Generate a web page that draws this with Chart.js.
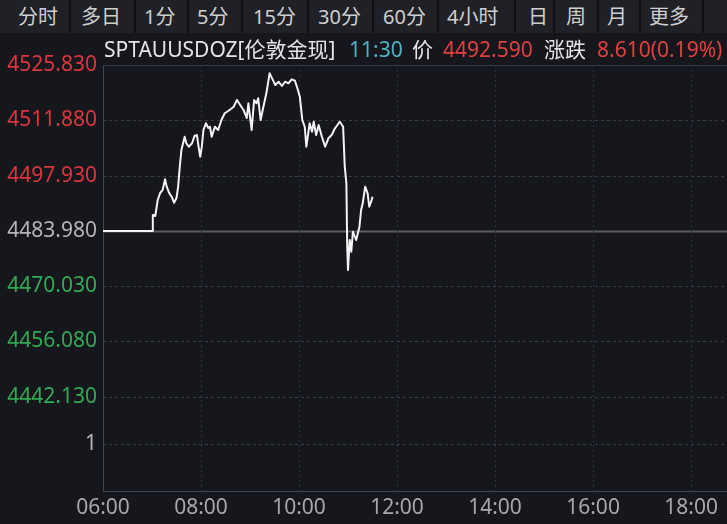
<!DOCTYPE html>
<html>
<head>
<meta charset="utf-8">
<script src="https://cdn.jsdelivr.net/npm/chart.js@4/dist/chart.umd.min.js"></script>
<style>
    html, body { margin: 0; padding: 0; background: #15171d; }
    #wrap { position: relative; width: 727px; height: 524px; overflow: hidden;
            font-family: "Noto Sans", "Noto Sans CJK SC", sans-serif; }
    #chart { position: absolute; left: 0; top: 0; }
    #tabs { position: absolute; left: 0; top: 0; width: 727px; height: 33px; background: #1f2127; }
    #tabs span { position: absolute; top: 3px; font-size: 20px; line-height: 28px; color: #cfcfcf; white-space: nowrap; }
    #tabs i { position: absolute; top: 0; width: 2px; height: 33px; background: #101115; }
    #head span { position: absolute; top: 36px; font-size: 21px; line-height: 26px; white-space: nowrap; }
</style>
</head>
<body>
<div id="wrap">
    <canvas id="chart" width="727" height="524"></canvas>
    <div id="tabs"></div>
    <div id="head"></div>
</div>
<script>
    // Tab bar labels and header texts
    const tabLabels = ['分时', '多日', '1分', '5分', '15分', '30分', '60分', '4小时', '日', '周', '月', '更多'];
    const headTexts = ['SPTAUUSDOZ[伦敦金现]', '11:30', '价', '4492.590', '涨跌', '8.610(0.19%)'];

    // Price series (time, price)
    const times = [
        '06:00', '07:00', '07:01', '07:04', '07:07', '07:10', '07:13', '07:16', '07:18', '07:21',
        '07:24', '07:27', '07:30', '07:32', '07:34', '07:36', '07:40', '07:42', '07:45', '07:49',
        '07:52', '07:55', '07:57', '07:59', '08:01', '08:03', '08:06', '08:09', '08:11', '08:13',
        '08:17', '08:21', '08:25', '08:29', '08:35', '08:40', '08:44', '08:48', '08:52', '08:56',
        '08:58', '09:02', '09:05', '09:08', '09:10', '09:13', '09:16', '09:20', '09:24', '09:27',
        '09:31', '09:35', '09:39', '09:43', '09:47', '09:51', '09:55', '09:58', '10:01', '10:04',
        '10:07', '10:09', '10:13', '10:16', '10:18', '10:21', '10:24', '10:28', '10:32', '10:36',
        '10:40', '10:44', '10:47', '10:50', '10:54', '10:56', '10:58', '10:59', '11:00', '11:02',
        '11:04', '11:06', '11:10', '11:14', '11:16', '11:18', '11:21', '11:24', '11:26', '11:29',
        '11:30'
    ];
    const prices = [
        4483.98, 4483.98, 4487.99, 4487.74, 4491.77, 4493.54, 4494.30, 4497.00, 4495.13, 4493.54,
        4492.61, 4491.09, 4492.28, 4495.13, 4500.17, 4504.39, 4507.74, 4506.08, 4505.22, 4506.08,
        4507.92, 4508.17, 4505.22, 4502.70, 4505.22, 4509.43, 4511.12, 4509.94, 4510.26, 4507.74,
        4510.26, 4509.43, 4511.96, 4513.65, 4514.48, 4515.31, 4517.00, 4515.74, 4514.48, 4512.46,
        4516.17, 4509.43, 4517.00, 4516.17, 4517.43, 4511.96, 4514.91, 4518.69, 4523.74, 4522.47,
        4520.78, 4521.62, 4520.53, 4521.62, 4521.21, 4522.22, 4521.87, 4519.95, 4517.83, 4511.96,
        4510.26, 4505.22, 4511.12, 4509.00, 4511.53, 4508.17, 4510.69, 4507.74, 4505.22, 4507.34,
        4508.17, 4509.86, 4510.69, 4511.53, 4510.26, 4500.17, 4495.99, 4479.99, 4474.11, 4481.68,
        4478.73, 4483.78, 4481.68, 4485.04, 4489.25, 4490.94, 4495.13, 4493.46, 4490.08, 4491.77,
        4492.59
    ];

    // Axis ticks
    const basePrice = 4483.98;
    const yTickValues = [4525.83, 4511.88, 4497.93, 4483.98, 4470.03, 4456.08, 4442.13, 4430.22];
    const yTickLabels = ['4525.830', '4511.880', '4497.930', '4483.980', '4470.030', '4456.080', '4442.130', '1'];
    const yRange = [4418.36, 4525.83];
    const xTickLabels = ['06:00', '08:00', '10:00', '12:00', '14:00', '16:00', '18:00'];
    const xRange = ['06:00', '18:44'];

    function toMin(t) {
        const p = t.split(':');
        return (+p[0]) * 60 + (+p[1]);
    }
    function fmt(m) {
        const h = Math.floor(m / 60), mm = m % 60;
        return String(h).padStart(2, '0') + ':' + String(mm).padStart(2, '0');
    }

    // Build tab bar + header
    const tabX = [18, 81, 144, 197, 253, 318, 383, 447, 528, 566, 607, 649];
    const sepX = [69, 134, 187, 241, 307, 372, 437, 514, 553, 597, 639, 702];
    const tabs = document.getElementById('tabs');
    tabLabels.forEach((t, i) => {
        const s = document.createElement('span');
        s.textContent = t;
        s.style.left = tabX[i] + 'px';
        tabs.appendChild(s);
    });
    sepX.forEach(x => {
        const d = document.createElement('i');
        d.style.left = x + 'px';
        tabs.appendChild(d);
    });
    const headX = [104, 349, 412, 443, 544, 597];
    const headColors = ['#e4e4e4', '#4fb0c6', '#e4e4e4', '#e2403f', '#e4e4e4', '#e2403f'];
    const head = document.getElementById('head');
    headTexts.forEach((t, i) => {
        const s = document.createElement('span');
        s.textContent = t;
        s.style.left = headX[i] + 'px';
        s.style.color = headColors[i];
        head.appendChild(s);
    });

    // Grid lines + frame
    const gridPlugin = {
        id: 'gridLines',
        beforeDatasetsDraw(chart) {
            const c = chart.ctx, a = chart.chartArea;
            const ys = chart.scales.y, xs = chart.scales.x;
            c.save();
            c.lineWidth = 1;
            ys.ticks.forEach((t, i) => {
                const y = Math.round(ys.getPixelForValue(t.value)) + 0.5;
                if (t.value === basePrice) {
                    c.setLineDash([]);
                    c.strokeStyle = '#5b5d63';
                    c.lineWidth = 2;
                } else if (i === 0) {
                    c.setLineDash([]);
                    c.strokeStyle = '#373a42';
                    c.lineWidth = 1;
                } else {
                    c.setLineDash([3, 3]);
                    c.strokeStyle = '#3a3d45';
                    c.lineWidth = 1;
                }
                c.beginPath();
                c.moveTo(a.left, y);
                c.lineTo(a.right, y);
                c.stroke();
            });
            c.setLineDash([2, 3]);
            c.strokeStyle = '#30333b';
            c.lineWidth = 1;
            xs.ticks.forEach((t, i) => {
                if (i === 0) return;
                const x = Math.round(xs.getPixelForValue(t.value)) + 0.5;
                c.beginPath();
                c.moveTo(x, a.top);
                c.lineTo(x, a.bottom);
                c.stroke();
            });
            c.setLineDash([]);
            c.strokeStyle = '#44474f';
            c.beginPath();
            c.moveTo(a.left + 0.5, a.top);
            c.lineTo(a.left + 0.5, a.bottom + 0.5);
            c.lineTo(a.right, a.bottom + 0.5);
            c.stroke();
            c.restore();
        }
    };

    const ctx = document.getElementById('chart').getContext('2d');
    new Chart(ctx, {
        type: 'line',
        data: {
            datasets: [{
                data: times.map((t, i) => ({ x: toMin(t), y: prices[i] })),
                borderColor: '#f4f4f4',
                borderWidth: 2,
                borderJoinStyle: 'round',
                tension: 0,
                pointRadius: 0,
                fill: false
            }]
        },
        options: {
            responsive: false,
            animation: false,
            layout: { padding: { top: 65, left: 0, right: 0, bottom: 0 } },
            plugins: {
                legend: { display: false },
                tooltip: { enabled: false }
            },
            scales: {
                x: {
                    type: 'linear',
                    min: toMin(xRange[0]),
                    max: toMin(xRange[1]),
                    grid: { display: false, drawTicks: false },
                    border: { display: false },
                    afterBuildTicks: function (scale) {
                        scale.ticks = xTickLabels.map(t => ({ value: toMin(t) }));
                    },
                    afterFit: function (scale) { scale.height = 33; },
                    ticks: {
                        autoSkip: false,
                        maxRotation: 0,
                        padding: 4,
                        color: '#a8a8a8',
                        font: { family: '"Noto Sans", sans-serif', size: 21 },
                        callback: function (v) { return fmt(v); }
                    }
                },
                y: {
                    min: yRange[0],
                    max: yRange[1],
                    grid: { display: false, drawTicks: false },
                    border: { display: false },
                    afterBuildTicks: function (scale) {
                        scale.ticks = yTickValues.map(v => ({ value: v }));
                    },
                    afterFit: function (scale) { scale.width = 103; },
                    ticks: {
                        autoSkip: false,
                        padding: 6,
                        font: { family: '"Noto Sans", sans-serif', size: 21 },
                        color: function (c) {
                            const v = c.tick.value;
                            if (c.index === yTickValues.length - 1 || v === basePrice) return '#b4b4b4';
                            return v > basePrice ? '#dc363c' : '#32aa52';
                        },
                        callback: function (v, i) { return yTickLabels[i]; }
                    }
                }
            }
        },
        plugins: [gridPlugin]
    });
</script>
</body>
</html>
